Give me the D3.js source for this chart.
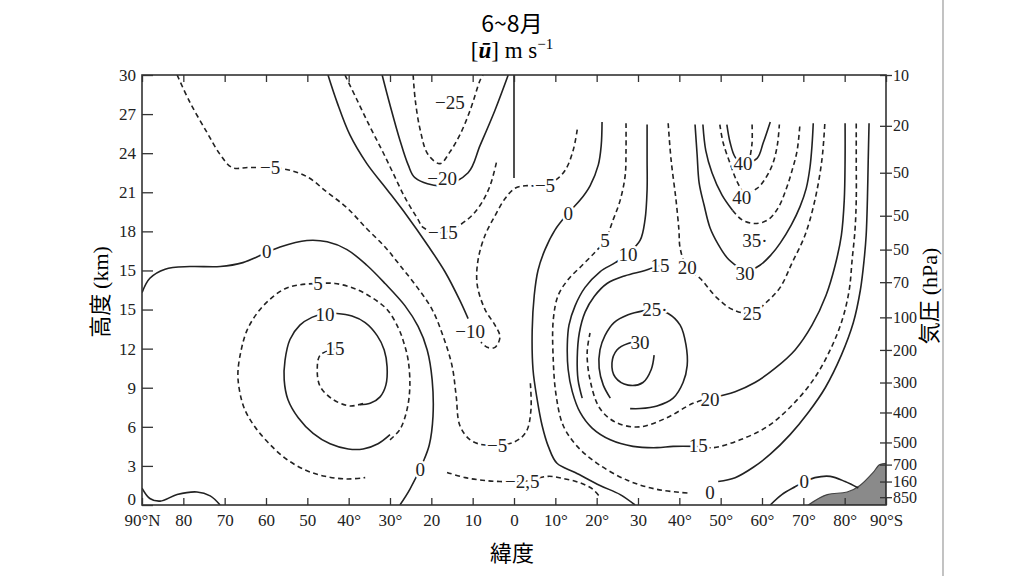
<!DOCTYPE html>
<html>
<head>
<meta charset="utf-8">
<script src="https://d3js.org/d3.v7.min.js"></script>
<style>
  body { margin: 0; background: #fff; }
  svg { display: block; }
  .axis text { font-family: "Liberation Serif", serif; font-size: 17px; fill: #222; }
  .axis line { stroke: #333; stroke-width: 1.3; }
  .contour { fill: none; stroke: #222; stroke-width: 1.6; }
  .label { font-family: "Liberation Serif", serif; font-size: 19px; fill: #222;
           stroke: #fff; stroke-width: 5; paint-order: stroke; stroke-linejoin: round; }
</style>
</head>
<body>
<svg id="chart" width="1024" height="576"></svg>
<script>
// axis ticks
var latTicks = [90, 80, 70, 60, 50, 40, 30, 20, 10, 0, -10, -20, -30, -40, -50, -60, -70, -80, -90];
var latLabels = ["90°N", "80", "70", "60", "50", "40°", "30°", "20", "10", "0", "10°", "20°", "30", "40°", "50°", "60°", "70°", "80°", "90°S"];
var kmTicks = [0, 3, 6, 9, 12, 15, 18, 21, 24, 27, 30, 33];
var kmLabels = ["0", "3", "6", "9", "12", "15", "15", "18", "21", "24", "27", "30"];
var presTicks = [33, 29.1, 25.5, 22.2, 19.6, 17.1, 14.4, 11.9, 9.4, 7.1, 4.8, 3.1, 1.8, 0.6];
var presLabels = ["10", "20", "50", "50", "50", "70", "100", "200", "300", "400", "500", "700", "160", "850"];

// contour lines as [latitude (N positive), height]
// northern hemisphere
var m5North = [[81.5,33],[78.4,30.9],[74.3,28.6],[71.1,26.9],[68.2,25.9],[63.9,25.9],[55.9,25.8],[50.1,25.2],[45.2,24.0],[40.4,22.8],[35.6,21.2],[31.2,19.8],[27.6,18.4],[23.4,16.7],[19.8,15.0],[17.2,13.0],[15.0,10.7],[14.0,8.4],[13.1,6.1],[10.6,5.0],[7.0,4.6],[0.2,4.8],[-2.9,5.6],[-4.1,7.3],[-3.9,9.6]];
var zeroNorth = [[90,16.3],[88.1,17.4],[84.4,18.1],[78.4,18.3],[71.1,18.3],[65.6,18.6],[56.6,19.8],[50.1,20.3],[45.2,20.2],[40.4,19.6],[35.6,18.4],[31.2,17.0],[26.4,15.3],[23.2,13.7],[21.0,11.9],[19.8,9.6],[19.6,6.8],[20.5,4.6],[22.0,3.3],[25.2,1.2],[27.6,0]];
var zeroPolarN = [[90,1.3],[88.1,0.5],[85.6,0.3],[81.5,0.8],[76.7,1.0],[73.5,0.7],[71.1,0]];
var m10North = [[45.0,33],[42.8,30.9],[39.7,28.4],[35.6,26.2],[30.7,24.2],[25.9,22.2],[20.8,19.9],[16.7,17.9],[13.1,15.7],[11.1,14.3]];
var m15North = [[40.9,33],[38.0,31.1],[34.8,29.0],[31.9,27.2],[29.3,25.5],[26.4,23.6],[23.2,21.9],[22.0,21.3],[17.2,20.9],[11.3,21.9],[8.2,23.0],[5.8,24.5],[4.1,26.5]];
var m20North = [[31.9,33],[30.0,30.7],[27.6,28.0],[25.6,26.1],[23.9,25.1],[17.4,24.5],[11.1,25.5],[8.2,27.6],[4.6,30.3],[1.4,33]];
var m25North = [[24.4,33],[23.9,31.1],[22.7,28.8],[20.8,26.9],[17.9,26.2],[15.5,27.1],[13.1,28.4],[10.6,30.3],[8.2,32.6],[7.5,33]];
var m10Equator = [[0,33],[0,25.1]];
var p5North = [[30.0,5.0],[27.6,5.8],[25.9,7.3],[25.2,9.1],[25.6,11.1],[26.6,12.4],[28.0,13.6],[30.7,15.0],[34.3,15.9],[38.5,16.6],[43.3,17.0],[47.4,17.0],[51.8,16.9],[55.4,16.6],[59.0,15.8],[62.2,14.7],[64.6,13.4],[66.0,11.9],[66.8,10.1],[66.3,8.6],[65.1,7.3],[62.7,6.0],[59.5,4.8],[55.4,3.6],[50.6,2.7],[45.7,2.2],[40.4,2.0],[36.0,2.1]];
var p10North = [[37.3,7.7],[34.8,7.8],[32.4,8.3],[31.0,9.2],[30.7,10.6],[31.4,11.9],[33.1,13.0],[36.0,14.0],[39.2,14.5],[42.8,14.7],[45.7,14.7],[48.9,14.4],[51.8,13.8],[54.2,12.7],[55.4,11.1],[55.6,9.6],[54.7,8.1],[52.2,6.7],[48.6,5.5],[44.5,4.7],[40.1,4.3],[36.5,4.3],[32.9,4.7],[30.0,5.4]];
var p15North = [[43.3,12.0],[46.9,11.5],[47.6,10.4],[46.9,9.1],[43.8,8.1],[39.7,7.6],[36.5,7.8]];
var m2p5Equator = [[16.2,2.5],[11.8,2.1],[7.7,1.9],[3.4,1.8],[-2.0,1.8],[-8.3,2.2],[-12.4,2.0],[-16.0,1.7],[-19.1,1.2],[-20.8,0.6]];

// southern hemisphere
var m5South = [[-15.3,28.8],[-14.3,27.2],[-12.4,25.7],[-9.9,24.9],[-6.6,24.5],[-2.7,24.5],[-0.2,24.3],[2.2,23.5],[4.6,22.2],[7.0,20.7],[8.7,18.8],[8.9,16.9],[7.0,15.0],[4.6,13.8],[3.4,12.9],[4.6,12.1],[6.5,12.1],[8.0,12.5]];
var zeroSouth = [[-21.3,29.4],[-21.1,27.6],[-20.4,26.1],[-18.4,24.5],[-16.0,23.4],[-13.1,22.4],[-9.9,21.1],[-7.5,19.6],[-5.8,18.0],[-4.9,16.1],[-4.4,13.4],[-4.6,10.4],[-5.6,8.1],[-6.8,6.1],[-8.3,4.5],[-10.4,3.2],[-14.8,2.5],[-20.8,1.5],[-25.7,0.8],[-29.3,0]];
var p5South = [[-27.1,29.3],[-27.1,27.2],[-26.9,25.3],[-25.7,23.4],[-24.0,21.9],[-22.0,20.3],[-19.6,19.4],[-16.5,18.4],[-13.1,17.3],[-10.7,16.1],[-9.5,14.2],[-9.5,11.1],[-10.2,8.4],[-11.9,6.1],[-15.3,4.5],[-20.1,3.2],[-27.4,1.9],[-34.6,1.2],[-42.6,0.9]];
var p10South = [[-32.2,29.2],[-32.2,26.5],[-32.2,24.2],[-31.7,21.9],[-30.5,20.3],[-27.6,19.3],[-24.5,18.6],[-20.8,17.9],[-17.2,16.7],[-14.8,15.3],[-13.3,13.8],[-12.9,12.3],[-13.1,10.4],[-14.1,8.7],[-16.0,7.1],[-18.9,5.9],[-23.3,5.0],[-28.8,4.5],[-34.6,4.4],[-38.5,4.5],[-44.3,4.5]];
var p15SouthOuter = [[-44.3,4.5],[-48.2,4.4],[-54.7,5.0],[-61.2,6.0],[-66.8,7.5],[-72.4,9.6],[-76.5,11.9],[-79.4,14.2],[-81.1,16.5],[-81.8,18.8],[-82.5,21.1],[-82.8,23.4],[-82.8,26.5],[-82.8,29.3]];
var p15SouthInner = [[-35.3,18.4],[-31.7,18.0],[-26.9,17.6],[-22.5,17.0],[-19.4,16.0],[-17.2,14.8],[-15.8,13.2],[-15.3,11.3],[-15.5,9.6],[-16.5,8.2]];
var p20SouthOuter = [[-80.1,29.3],[-80.1,26.5],[-79.9,23.4],[-79.2,20.7],[-77.7,18.4],[-75.5,16.1],[-72.1,13.8],[-68.0,11.9],[-63.2,10.5],[-58.3,9.4],[-53.5,8.7],[-47.4,8.2]];
var p20SouthInner = [[-47.4,8.2],[-43.3,7.8],[-37.0,6.7],[-30.5,6.0],[-24.9,6.3],[-20.8,7.4],[-18.4,9.6],[-17.7,11.7],[-18.4,13.2]];
var p25Core = [[-23.3,8.2],[-21.6,9.2],[-20.6,10.5],[-20.8,11.9],[-22.0,13.0],[-24.2,14.0],[-27.6,14.6],[-31.2,14.9],[-34.1,15.0],[-37.3,14.7],[-40.2,13.8],[-41.6,12.3],[-41.9,10.7],[-40.9,9.4],[-38.5,8.2],[-34.6,7.6],[-30.5,7.4],[-28.1,7.4]];
var p30Core = [[-30.5,12.5],[-27.6,12.4],[-24.9,11.9],[-23.7,10.9],[-24.5,9.8],[-27.6,9.2],[-31.2,9.4],[-33.2,10.4],[-33.9,11.5]];
var p10Polar = [[-85.9,29.3],[-85.7,26.5],[-85.5,23.4],[-85.2,20.7],[-84.7,18.8],[-83.8,16.5],[-82.1,14.0],[-79.2,11.5],[-75.3,9.0],[-71.2,7.1],[-66.8,5.4],[-62.0,3.9],[-57.9,2.9],[-53.5,2.1],[-49.4,1.8]];
var p25Upper = [[-37.3,29.3],[-38.0,26.5],[-39.2,23.4],[-39.9,21.1],[-40.2,19.7],[-41.9,18.2],[-45.0,17.4],[-49.1,15.9],[-52.9,15.0],[-57.6,14.7],[-61.2,15.6],[-64.4,16.7],[-67.3,18.6],[-70.4,20.7],[-72.8,23.4],[-74.5,26.5],[-75.2,29.3]];
var p30Upper = [[-43.8,29.2],[-44.3,26.9],[-44.8,24.7],[-46.0,23.0],[-47.4,21.3],[-49.4,20.0],[-51.5,19.0],[-54.0,18.3],[-55.9,17.9],[-59.5,18.4],[-62.2,19.2],[-64.4,20.1],[-67.1,21.5],[-69.2,22.9],[-70.7,24.3],[-71.6,25.9],[-72.1,27.6],[-72.4,29.3]];
var p35UpperWest = [[-45.7,29.2],[-46.4,27.2],[-47.9,25.5],[-50.3,23.8],[-52.9,22.6]];
var p35UpperEast = [[-52.9,22.6],[-55.1,21.9],[-58.3,21.6],[-61.5,21.9],[-63.9,22.8],[-65.8,24.2],[-67.3,25.7],[-68.5,27.2],[-69.2,29.3]];
var p40Upper = [[-49.8,29.2],[-50.6,27.8],[-52.3,26.2],[-54.0,24.8],[-55.9,23.9],[-58.8,24.3],[-60.5,24.9],[-62.5,26.1],[-63.7,27.6],[-64.2,29.2]];
var p45Upper = [[-51.5,29.2],[-52.3,27.8],[-53.5,26.7],[-55.4,26.2],[-58.8,26.6],[-60.3,27.8],[-62.0,29.4]];
var p45Stub = [[-57.6,29.2],[-57.6,27.8],[-57.1,26.7]];
var zeroPolarS = [[-62.0,0],[-64.8,0.8],[-68.0,1.4],[-70.4,1.8],[-72.8,2.1],[-76.5,2.2],[-80.1,1.8],[-83.3,1.3]];

// Antarctic surface
var antarctica = [[-71.2,0],[-75.8,0.8],[-80.6,1.0],[-83.7,1.5],[-86.9,2.5],[-88.5,3.1],[-90,3.2]];

// contour labels
var labelText = ["−25","−20","−15","−5","0","−10","5","10","15","−5","0","−2,5","−5","0","5","10","15","20","25·","30","20","15","0","0","40","40","35·","30","25"];
var labelLat = [15.5,17.4,17.2,59.0,59.8,10.6,47.4,45.7,43.3,4.1,22.7,-2.0,-7.5,-13.1,-22.0,-27.6,-35.3,-41.9,-34.1,-30.5,-47.4,-44.6,-47.4,-70.2,-55.4,-55.1,-58.3,-55.9,-57.6];
var labelH = [30.9,25.1,20.9,25.9,19.5,13.3,17.0,14.6,12.0,4.6,2.7,1.8,24.5,22.4,20.3,19.2,18.4,18.2,15.0,12.5,8.1,4.6,1.0,1.8,26.2,23.6,20.3,17.8,14.7];

var contours = [
    { pts: m5North, dash: true }, { pts: zeroNorth, dash: false }, { pts: zeroPolarN, dash: false },
    { pts: m10North, dash: false }, { pts: m15North, dash: true }, { pts: m20North, dash: false },
    { pts: m25North, dash: true }, { pts: m10Equator, dash: false }, { pts: p5North, dash: true },
    { pts: p10North, dash: false }, { pts: p15North, dash: true }, { pts: m2p5Equator, dash: true },
    { pts: m5South, dash: true }, { pts: zeroSouth, dash: false }, { pts: p5South, dash: true },
    { pts: p10South, dash: false }, { pts: p15SouthOuter, dash: true }, { pts: p15SouthInner, dash: false },
    { pts: p20SouthOuter, dash: false }, { pts: p20SouthInner, dash: true }, { pts: p25Core, dash: false },
    { pts: p30Core, dash: false }, { pts: p10Polar, dash: false }, { pts: p25Upper, dash: true },
    { pts: p30Upper, dash: false }, { pts: p35UpperWest, dash: false }, { pts: p35UpperEast, dash: true },
    { pts: p40Upper, dash: true }, { pts: p45Upper, dash: false }, { pts: p45Stub, dash: true },
    { pts: zeroPolarS, dash: false }
];

var margin = { top: 75, right: 138, bottom: 71, left: 142 },
    width = 1024 - margin.left - margin.right,
    height = 576 - margin.top - margin.bottom;

var svg = d3.select("#chart");

// edge of the scanned page
svg.append("line")
    .attr("x1", 943).attr("x2", 943).attr("y1", 0).attr("y2", 576)
    .style("stroke", "#9a9a9a").style("stroke-width", 1.2);

var g = svg.append("g")
    .attr("transform", "translate(" + margin.left + "," + margin.top + ")");

var x = d3.scaleLinear().domain([90, -90]).range([0, width]);
var y = d3.scaleLinear().domain([0, 33]).range([height, 0]);

g.append("clipPath").attr("id", "plot-clip")
    .append("rect").attr("width", width).attr("height", height);

var plot = g.append("g").attr("clip-path", "url(#plot-clip)");

// terrain
plot.append("path")
    .datum(antarctica)
    .attr("d", d3.area()
        .x(function (d) { return x(d[0]); })
        .y0(y(0))
        .y1(function (d) { return y(d[1]); })
        .curve(d3.curveMonotoneX))
    .style("fill", "#8a8a8a")
    .style("stroke", "#444")
    .style("stroke-width", 1.2);

var line = d3.line()
    .x(function (d) { return x(d[0]); })
    .y(function (d) { return y(d[1]); })
    .curve(d3.curveCatmullRom.alpha(0.5));

plot.selectAll(".contour")
    .data(contours)
    .enter().append("path")
    .attr("class", "contour")
    .attr("d", function (d) { return line(d.pts); })
    .style("stroke-dasharray", function (d) { return d.dash ? "5,3.5" : null; });

plot.selectAll(".label")
    .data(labelText)
    .enter().append("text")
    .attr("class", "label")
    .attr("x", function (d, i) { return x(labelLat[i]); })
    .attr("y", function (d, i) { return y(labelH[i]); })
    .attr("text-anchor", "middle")
    .attr("dy", "0.35em")
    .text(function (d) { return d; });

// axes
g.append("g")
    .attr("class", "axis")
    .attr("transform", "translate(0," + height + ")")
    .call(d3.axisBottom(x).tickValues(latTicks)
        .tickFormat(function (d, i) { return latLabels[i]; })
        .tickSizeInner(-7).tickSizeOuter(0).tickPadding(9))
    .call(function (a) { a.select(".domain").remove(); });

g.append("g")
    .attr("class", "axis")
    .call(d3.axisTop(x).tickValues(latTicks).tickFormat("")
        .tickSizeInner(-7).tickSizeOuter(0))
    .call(function (a) { a.select(".domain").remove(); });

var left = g.append("g")
    .attr("class", "axis")
    .call(d3.axisLeft(y).tickValues(kmTicks)
        .tickFormat(function (d, i) { return kmLabels[i]; })
        .tickSizeInner(-11).tickSizeOuter(0).tickPadding(6));
left.select(".domain").remove();
// the bottom label sits a little above the axis line, clear of "90°N"
left.selectAll("text").filter(function (d) { return d === 0; }).attr("dy", "-0.05em");

var right = g.append("g")
    .attr("class", "axis")
    .attr("transform", "translate(" + width + ",0)")
    .call(d3.axisRight(y).tickValues(presTicks)
        .tickFormat(function (d, i) { return presLabels[i]; })
        .tickSizeInner(6).tickSizeOuter(0).tickPadding(1));
right.select(".domain").remove();
right.selectAll("line").attr("x1", -6);
right.selectAll("text").style("font-size", "16px");

g.append("rect")
    .attr("width", width).attr("height", height)
    .style("fill", "none").style("stroke", "#333").style("stroke-width", 1.6);

// titles
svg.append("text")
    .attr("x", 512).attr("y", 32)
    .attr("text-anchor", "middle")
    .style("font-family", "'Noto Sans CJK JP', sans-serif")
    .style("font-size", "23px")
    .text("6~8月");

var unit = svg.append("text")
    .attr("x", 512).attr("y", 58)
    .attr("text-anchor", "middle")
    .style("font-family", "'Liberation Serif', serif")
    .style("font-size", "23px");
unit.append("tspan").text("[");
unit.append("tspan").style("font-style", "italic").style("font-weight", "bold").text("ū");
unit.append("tspan").text("] m s");
unit.append("tspan").attr("dy", -9).style("font-size", "15px").text("−1");

svg.append("text")
    .attr("x", 512).attr("y", 561)
    .attr("text-anchor", "middle")
    .style("font-family", "'Noto Sans CJK JP', sans-serif")
    .style("font-size", "22px")
    .text("緯度");

var yTitle = svg.append("text")
    .attr("transform", "translate(108,292) rotate(-90)")
    .attr("text-anchor", "middle")
    .style("font-size", "22px");
yTitle.append("tspan").style("font-family", "'Noto Sans CJK JP', sans-serif").text("高度 ");
yTitle.append("tspan").style("font-family", "'Liberation Serif', serif").text("(km)");

var pTitle = svg.append("text")
    .attr("transform", "translate(937,296) rotate(-90)")
    .attr("text-anchor", "middle")
    .style("font-size", "22px");
pTitle.append("tspan").style("font-family", "'Noto Sans CJK JP', sans-serif").text("気圧 ");
pTitle.append("tspan").style("font-family", "'Liberation Serif', serif").text("(hPa)");
</script>
</body>
</html>
